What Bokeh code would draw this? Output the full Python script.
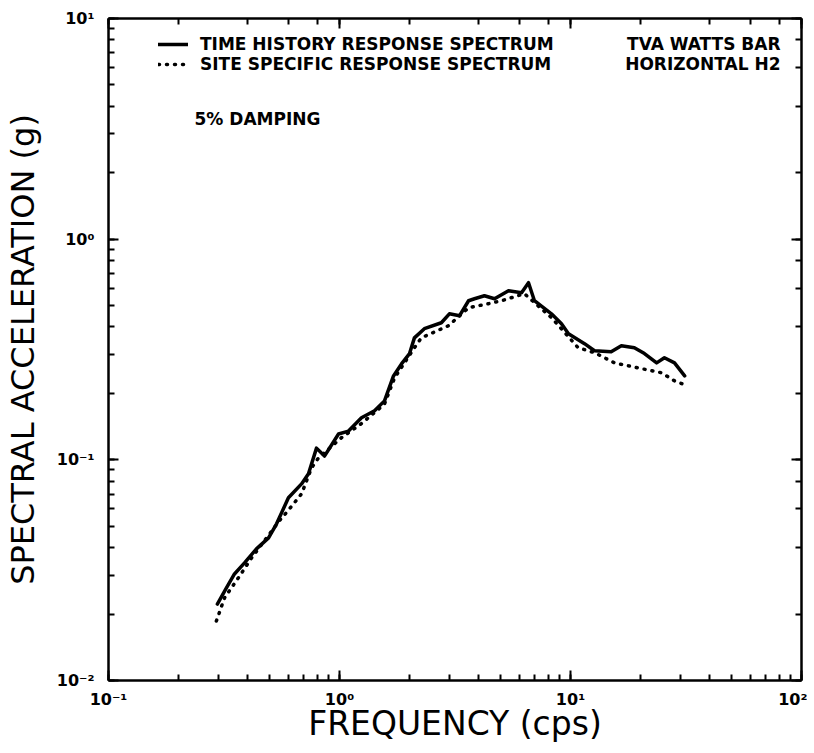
from bokeh.plotting import figure
from bokeh.models import (LogAxis, LogTicker, Legend, LegendItem, Label, Range1d)
from bokeh.embed import file_html
from bokeh.resources import INLINE

# ---- data ----
th_freq = [0.296, 0.324, 0.351, 0.388, 0.437, 0.493, 0.534, 0.601, 0.685, 0.734,
           0.795, 0.861, 0.99, 1.094, 1.245, 1.418, 1.566, 1.713, 1.855, 2.01,
           2.11, 2.33, 2.76, 2.99, 3.31, 3.62, 3.84, 4.24, 4.69, 5.39,
           6.14, 6.58, 6.98, 8.27, 9.14, 9.80, 11.5, 12.7, 15.0, 16.6,
           18.9, 20.9, 23.6, 25.5, 28.2, 31.2]
th_acc = [0.0222, 0.0263, 0.0304, 0.0341, 0.0395, 0.0443, 0.0513, 0.0673, 0.0778, 0.0865,
          0.113, 0.104, 0.131, 0.135, 0.155, 0.167, 0.185, 0.240, 0.272, 0.303,
          0.357, 0.393, 0.418, 0.459, 0.450, 0.526, 0.537, 0.554, 0.537, 0.584,
          0.572, 0.635, 0.526, 0.459, 0.414, 0.373, 0.336, 0.312, 0.309, 0.329,
          0.322, 0.303, 0.275, 0.290, 0.275, 0.240]

ss_freq = [0.293, 0.318, 0.365, 0.416, 0.549, 0.608, 0.685, 0.757, 0.811, 1.02,
           1.245, 1.566, 1.73, 2.11, 2.26, 2.96, 3.62, 4.42, 5.03, 6.32,
           8.27, 10.8, 12.7, 15.5, 20.3, 24.8, 28.2, 31.2]
ss_acc = [0.0186, 0.0237, 0.0292, 0.0359, 0.0529, 0.060, 0.0701, 0.092, 0.102, 0.126,
          0.146, 0.179, 0.235, 0.322, 0.357, 0.405, 0.489, 0.510, 0.526, 0.566,
          0.441, 0.322, 0.306, 0.275, 0.259, 0.248, 0.228, 0.219]

x_limits = [0.1, 100]
y_limits = [0.01, 10]
x_ticks = {0.1: "10\u207b\u00b9", 1: "10\u2070", 10: "10\u00b9", 100: "10\u00b2"}
y_ticks = {0.01: "10\u207b\u00b2", 0.1: "10\u207b\u00b9", 1: "10\u2070", 10: "10\u00b9"}

legend_labels = ["TIME HISTORY RESPONSE SPECTRUM", "SITE SPECIFIC RESPONSE SPECTRUM"]
site_lines = ["TVA WATTS BAR", "HORIZONTAL H2"]
damping_note = "5% DAMPING"
x_label = "FREQUENCY (cps)"
y_label = "SPECTRAL ACCELERATION (g)"

FONT = "DejaVu Sans"

p = figure(width=807, height=752, x_axis_type="log", y_axis_type="log",
           x_range=Range1d(*x_limits), y_range=Range1d(*y_limits),
           output_backend="svg", toolbar_location=None,
           min_border_left=103, min_border_right=6, min_border_top=18, min_border_bottom=72)
p.grid.visible = False
p.outline_line_color = None
p.background_fill_color = "white"
p.border_fill_color = "white"


def style_axis(ax):
    ax.axis_line_width = 2.5
    ax.axis_line_color = "black"
    ax.major_tick_in = 10
    ax.major_tick_out = 0
    ax.minor_tick_in = 6
    ax.minor_tick_out = 0
    ax.major_tick_line_width = 2
    ax.minor_tick_line_width = 2
    ax.major_tick_line_color = "black"
    ax.minor_tick_line_color = "black"


xb = p.below[0]
yl = p.left[0]
for ax in (xb, yl):
    style_axis(ax)
    ax.major_label_text_font = FONT
    ax.major_label_text_font_style = "bold"
    ax.major_label_text_font_size = "16px"
    ax.major_label_text_color = "black"
    ax.axis_label_text_font = FONT
    ax.axis_label_text_font_style = "normal"
    ax.axis_label_text_color = "black"

xb.major_label_overrides = x_ticks
yl.major_label_overrides = y_ticks

xb.axis_label = x_label
xb.axis_label_text_font_size = "33px"
xb.major_label_standoff = 9
xb.axis_label_standoff = -8

yl.axis_label = y_label
yl.axis_label_text_font_size = "32px"
yl.major_label_standoff = 14
yl.axis_label_standoff = 12

top = LogAxis(ticker=LogTicker(), major_label_text_font_size="1px",
              major_label_text_alpha=0, major_label_standoff=0)
right = LogAxis(ticker=LogTicker(), major_label_text_font_size="1px",
                major_label_text_alpha=0, major_label_standoff=0)
style_axis(top)
style_axis(right)
p.add_layout(top, "above")
p.add_layout(right, "right")

# ---- curves ----
r_ss = p.line(ss_freq, ss_acc, line_color="black", line_width=3.5,
              line_dash="1 7", line_cap="round")
r_th = p.line(th_freq, th_acc, line_color="black", line_width=3.5,
              line_join="round", line_cap="round")

legend = Legend(items=[LegendItem(label=legend_labels[0], renderers=[r_th]),
                       LegendItem(label=legend_labels[1], renderers=[r_ss])],
                location=(50, 606), orientation="vertical",
                glyph_width=30, glyph_height=16, label_height=16,
                label_standoff=12, spacing=0, padding=0, margin=0,
                border_line_alpha=0, background_fill_alpha=0,
                label_text_font=FONT, label_text_font_style="bold",
                label_text_font_size="17px", label_text_color="black")
p.add_layout(legend)

for i, t in enumerate(site_lines):
    p.add_layout(Label(x=672, y=637 - 20 * i, x_units="screen", y_units="screen",
                       text=t, text_align="right", text_baseline="middle",
                       text_font=FONT, text_font_style="bold",
                       text_font_size="17px", text_color="black"))

p.add_layout(Label(x=86, y=562, x_units="screen", y_units="screen",
                   text=damping_note, text_align="left", text_baseline="middle",
                   text_font=FONT, text_font_style="bold",
                   text_font_size="17px", text_color="black"))

open("out.html", "w").write(file_html(p, INLINE))
